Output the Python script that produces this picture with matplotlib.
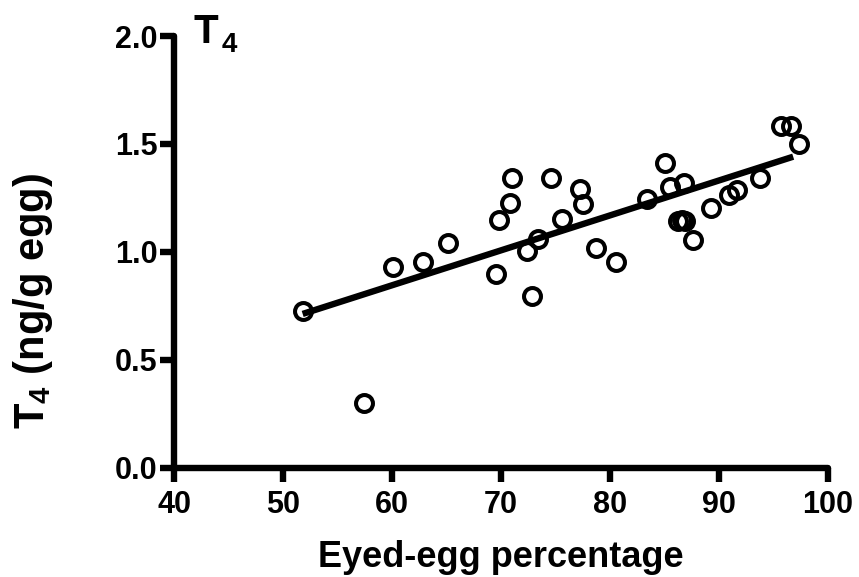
import numpy as np
import matplotlib.pyplot as plt

plt.rcParams['font.family'] = ['Liberation Sans', 'DejaVu Sans']
plt.rcParams['font.weight'] = 'bold'
plt.rcParams['mathtext.fontset'] = 'custom'
plt.rcParams['mathtext.rm'] = 'Liberation Sans:bold'
plt.rcParams['mathtext.bf'] = 'Liberation Sans:bold'

# eyed-egg percentage vs T4 content
eyed_pct = [51.8, 57.4, 60.1, 62.8, 65.1, 69.5, 69.8, 70.8, 71.0, 72.4,
            72.8, 73.4, 74.6, 75.6, 77.2, 77.5, 78.7, 80.5, 83.4, 85.0,
            85.5, 86.2, 86.6, 86.9, 86.8, 87.6, 89.3, 90.9, 91.6, 93.8,
            95.7, 96.6, 97.3]
t4_conc = [0.728, 0.299, 0.932, 0.952, 1.043, 0.898, 1.148, 1.228, 1.344, 1.005,
           0.798, 1.060, 1.341, 1.153, 1.290, 1.222, 1.017, 0.955, 1.244, 1.413,
           1.299, 1.145, 1.150, 1.145, 1.318, 1.056, 1.202, 1.264, 1.287, 1.341,
           1.583, 1.583, 1.499]

# regression line
fit_slope = 0.01618
fit_intercept = -0.125
fit_x_range = [51.8, 96.8]

x_ticks = [40, 50, 60, 70, 80, 90, 100]
y_ticks = [0.0, 0.5, 1.0, 1.5, 2.0]

fig = plt.figure(figsize=(8.59, 5.77), dpi=100)
ax = fig.add_axes([0.2026, 0.189, 0.7614, 0.7486])

xs = np.array(fit_x_range)
ax.plot(xs, fit_intercept + fit_slope * xs, color='black', lw=4.6,
        solid_capstyle='butt', zorder=2)
ax.plot(eyed_pct, t4_conc, 'o', ms=12.2, mfc='none', mec='black', mew=2.9,
        zorder=3, clip_on=False)

ax.set_xlim(40, 100)
ax.set_ylim(0, 2.0)
ax.set_xticks(x_ticks)
ax.set_yticks(y_ticks)
ax.set_xticklabels([str(v) for v in x_ticks])
ax.set_yticklabels([f'{v:.1f}' for v in y_ticks])

for side in ['top', 'right']:
    ax.spines[side].set_visible(False)
for side in ['left', 'bottom']:
    ax.spines[side].set_linewidth(4.6)
    ax.spines[side].set_capstyle('round')
ax.tick_params(width=4.6, length=10, labelsize=22, pad=2)
ax.tick_params(axis='x', pad=6)
for lbl in ax.get_xticklabels() + ax.get_yticklabels():
    lbl.set_fontweight('bold')

ax.set_xlabel('Eyed-egg percentage', fontsize=26, fontweight='bold', labelpad=14)
fig.text(33 / 859, 1 - 301 / 577, r'T$_{\mathbf{4}}$ (ng/g egg)', rotation=90,
         fontsize=30, fontweight='bold', ha='center', va='center')

# panel title T4
fig.text(193 / 859, 1 - 43 / 577, 'T', fontsize=29, fontweight='bold',
         ha='left', va='baseline')
fig.text(222 / 859, 1 - 52 / 577, '4', fontsize=20, fontweight='bold',
         ha='left', va='baseline')

fig.savefig('out.png', dpi=100)
